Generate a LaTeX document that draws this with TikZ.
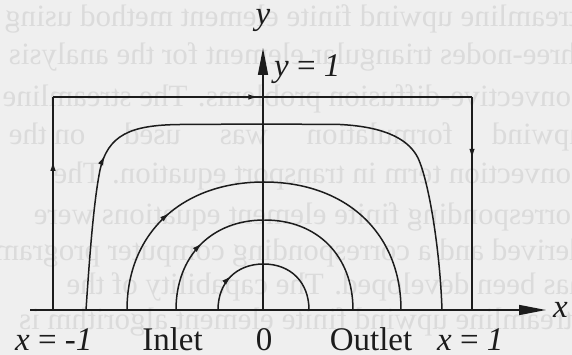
\documentclass[tikz,border=0pt]{standalone}
\usepackage{fontspec}
\setmainfont{Liberation Serif}
\usetikzlibrary{arrows.meta,decorations.markings}
\definecolor{bgcol}{HTML}{EFEFEF}
\definecolor{ghost}{HTML}{DBDBDB}
\definecolor{ink}{HTML}{1C1C1C}
\begin{document}
\begin{tikzpicture}[x=1pt,y=-1pt,
  stream/.style={draw=ink, line width=1.5pt},
  axisline/.style={draw=ink, line width=1.6pt, -{Triangle[length=27pt,width=10pt]}},
  flowmark/.style={postaction={decorate}, decoration={markings,
      mark=at position #1 with {\arrow{Latex[length=10pt,width=5.5pt]}}}},
  lbl/.style={font=\fontsize{33}{40}\selectfont, text=ink, inner sep=0pt},
  ghosttext/.style={font=\fontsize{31}{36}\selectfont, text=ghost, inner sep=0pt, anchor=base east}]
\useasboundingbox (0,0) rectangle (572,355);
\fill[bgcol] (0,0) rectangle (572,355);
% faint mirrored bleed-through of the back page
\begin{scope}
\clip (0,0) rectangle (572,355);
\node[ghosttext] (g1) at (590,27)  {\reflectbox{streamline upwind finite element method using}};
\node[ghosttext] (g2) at (585,65)  {\reflectbox{three-nodes triangular element for the analysis of}};
\node[ghosttext] (g3) at (585,107) {\reflectbox{convective-diffusion problems. The streamline}};
\node[ghosttext] (g4) at (585,145) {\reflectbox{upwind \quad formulation \quad was \quad used \quad on the}};
\node[ghosttext] (g5) at (585,184) {\reflectbox{convection term in transport equation. The}};
\node[ghosttext] (g6) at (585,225) {\reflectbox{corresponding finite element equations were}};
\node[ghosttext] (g7) at (585,260) {\reflectbox{derived and a corresponding computer program}};
\node[ghosttext] (g8) at (585,294) {\reflectbox{has been developed. The capability of the}};
\node[ghosttext] (g9) at (585,329) {\reflectbox{streamline upwind finite element algorithm is}};
\end{scope}

% coordinates
\coordinate (xs) at (30,310);
\coordinate (xe) at (546,310);
\coordinate (O) at (263,310);
\coordinate (ye) at (263,48);
\coordinate (r1) at (53,310);
\coordinate (r2) at (53,97);
\coordinate (r3) at (472,97);
\coordinate (r4) at (472,310);

% outer streamline (rectangle)
\draw[stream, flowmark=0.70] (r1) -- (r2);
\draw[stream, flowmark=0.49] (r2) -- (r3);
\draw[stream, flowmark=0.29] (r3) -- (r4);

% second streamline
\draw[stream, flowmark=0.48] (86,310) .. controls (90,250) and (94,200) .. (100,170)
   .. controls (108,135) and (130,125) .. (180,124.5) -- (263,124);
\draw[stream] (263,124) -- (340,124.5) .. controls (390,127) and (410,142) .. (418,158)
   .. controls (429,182) and (440,250) .. (442,310);

% third streamline
\draw[stream, flowmark=0.52] (127,310) .. controls (127,233.2) and (181.8,182) .. (264,182);
\draw[stream] (264,182) .. controls (346.2,182) and (401,233.2) .. (401,310);

% fourth streamline
\draw[stream, flowmark=0.52] (176,310) .. controls (176,256) and (211.4,220) .. (264.5,220);
\draw[stream] (264.5,220) .. controls (317.6,220) and (353,256) .. (353,310);

% fifth streamline
\draw[stream, flowmark=0.52] (218,310) .. controls (218,282.4) and (236.2,264) .. (263.5,264);
\draw[stream] (263.5,264) .. controls (290.8,264) and (309,282.4) .. (309,310);

% axes
\draw[axisline] (xs) -- (xe);
\draw[axisline] (O) -- (ye);

% labels
\node[lbl, anchor=base] (ylab) at (263,25) {\textit{y}};
\node[lbl, anchor=base west] (xlab) at (553,317) {\textit{x}};
\node[lbl, anchor=base west] (ytop) at (274,77) {\textit{y} = \textit{1}};
\node[lbl, anchor=base west] (xm1) at (15,350) {\textit{x} = -\textit{1}};
\node[lbl, anchor=base] (inlet) at (172.5,350) {Inlet};
\node[lbl, anchor=base] (zero) at (264,350) {0};
\node[lbl, anchor=base] (outlet) at (371,350) {Outlet};
\node[lbl, anchor=base west] (xp1) at (437,350) {\textit{x} = \textit{1}};
\end{tikzpicture}
\end{document}
